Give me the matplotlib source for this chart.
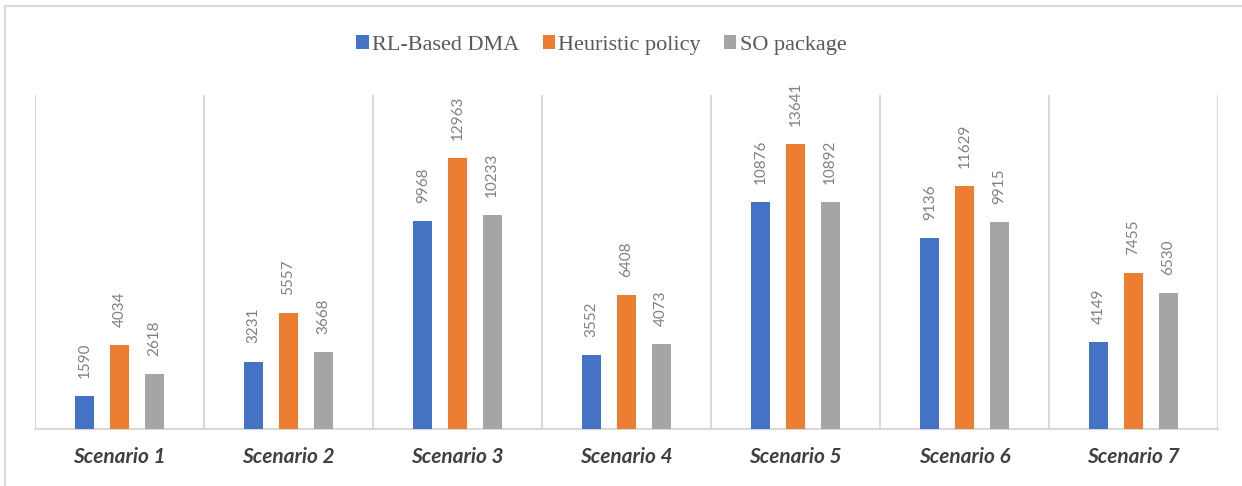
import matplotlib
matplotlib.use("Agg")
import matplotlib.pyplot as plt
from matplotlib.lines import Line2D
from matplotlib.patches import Patch
import numpy as np

categories = ["Scenario 1", "Scenario 2", "Scenario 3", "Scenario 4", "Scenario 5", "Scenario 6", "Scenario 7"]
series_names = ["RL-Based DMA", "Heuristic policy", "SO package"]
rl_based = [1590, 3231, 9968, 3552, 10876, 9136, 4149]
heuristic = [4034, 5557, 12963, 6408, 13641, 11629, 7455]
so_package = [2618, 3668, 10233, 4073, 10892, 9915, 6530]
colors = ["#4472C4", "#ED7D31", "#A5A5A5"]

W, H = 1242, 486
fig = plt.figure(figsize=(W / 100, H / 100), dpi=100)
ax = fig.add_axes([35 / W, 1 - 429 / H, (1218 - 35) / W, (429 - 95) / H])

x = np.arange(len(categories))
offsets = [-0.205, 0.0, 0.205]
width = 0.112
grid_c = "#D9D9D9"

for vals, off, col, name in zip([rl_based, heuristic, so_package], offsets, colors, series_names):
    bars = ax.bar(x + off, vals, width, color=col, label=name, zorder=3)
    ax.bar_label(bars, labels=[str(v) for v in vals], rotation=90, padding=13,
                 fontsize=11, color="#808080", family="Lato")

for b in np.arange(-0.5, len(categories) + 0.5, 1.0):
    ax.axvline(b, color=grid_c, lw=1.5, zorder=1)

ax.set_xlim(-0.5, len(categories) - 0.5)
ax.set_ylim(0, 16000)
ax.set_yticks([])
for s in ["left", "right", "top"]:
    ax.spines[s].set_visible(False)
ax.spines["bottom"].set_color(grid_c)
ax.spines["bottom"].set_linewidth(1.5)
ax.set_xticks(x)
ax.set_xticklabels(categories, fontsize=15, fontweight="bold", fontstyle="italic",
                   color="#404040", family="Lato")
ax.tick_params(axis="x", length=0, pad=13)

handles = [Patch(facecolor=c, edgecolor="none") for c in colors]
fig.legend(handles, series_names, loc="center", bbox_to_anchor=(601.5 / W, 1 - 45 / H), ncol=3,
           frameon=False, prop={"family": "Liberation Serif", "size": 16},
           labelcolor="#595959", handlelength=0.55, handleheight=0.55,
           handletextpad=0.15, columnspacing=1.05)

# figure border (top and left)
fig.add_artist(Line2D([5 / W, 5 / W], [0, 1 - 6.5 / H], color=grid_c, lw=1.5, transform=fig.transFigure))
fig.add_artist(Line2D([5 / W, 1], [1 - 6.5 / H, 1 - 6.5 / H], color=grid_c, lw=1.5, transform=fig.transFigure))

fig.savefig("out.png", dpi=100, facecolor="white")
